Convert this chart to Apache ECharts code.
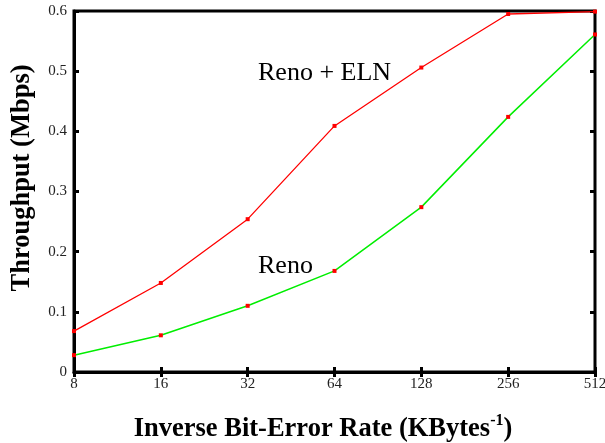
<!DOCTYPE html>
<html><head><meta charset="utf-8">
<script src="https://cdn.jsdelivr.net/npm/echarts@6/dist/echarts.min.js"></script>
<style>html,body{margin:0;padding:0;background:#fff}#c{width:605px;height:443px}</style>
</head><body><div id="c"></div>
<script>
const categories = ['8','16','32','64','128','256','512'];
const renoEln = [0.068, 0.148, 0.254, 0.409, 0.506, 0.595, 0.599];
const reno = [0.028, 0.061, 0.110, 0.168, 0.274, 0.424, 0.561];
const yTicks = [0, 0.1, 0.2, 0.3, 0.4, 0.5, 0.6];

const serif = '"Liberation Serif", "DejaVu Serif", serif';
const chart = echarts.init(document.getElementById('c'));
const tickStyle = {show:true, inside:true, length:5, lineStyle:{color:'#000', width:3}};
chart.setOption({
  animation:false,
  backgroundColor:'#fff',
  grid:{left:74, right:10, top:11, bottom:71, show:true, borderColor:'#000', borderWidth:3,
        containLabel:false, outerBoundsMode:'none'},
  xAxis:[{
    type:'category', data:categories, boundaryGap:false,
    axisLine:{show:true, lineStyle:{color:'#000', width:3}},
    axisTick:tickStyle,
    axisLabel:{color:'#222', fontFamily:serif, fontSize:15, margin:5},
    splitLine:{show:false},
    name:'{t|Inverse Bit-Error Rate (KBytes}{s|-1}{t|)}',
    nameLocation:'middle', nameGap:41,
    nameTextStyle:{padding:[0,23,0,0], rich:{
      t:{fontFamily:serif, fontWeight:'bold', fontSize:26.5, color:'#000', verticalAlign:'bottom', lineHeight:30},
      s:{fontFamily:serif, fontWeight:'bold', fontSize:16, color:'#000', verticalAlign:'top', lineHeight:30, padding:[0,0,15,0]}
    }}
  },{
    type:'category', data:categories, boundaryGap:false, position:'top',
    axisLine:{show:false}, axisTick:tickStyle, axisLabel:{show:false}, splitLine:{show:false}
  }],
  yAxis:[{
    type:'value', min:0, max:0.6, interval:0.1,
    axisLine:{show:true, lineStyle:{color:'#000', width:3}},
    axisTick:tickStyle,
    axisLabel:{color:'#222', fontFamily:serif, fontSize:15, margin:7,
      formatter:v=>{const t=yTicks.find(x=>Math.abs(x-v)<1e-9); return t===0?'0':(t!==undefined?t.toFixed(1):'');}},
    splitLine:{show:false},
    name:'Throughput (Mbps)', nameLocation:'middle', nameGap:38,
    nameTextStyle:{fontFamily:serif, fontWeight:'bold', fontSize:26.5, color:'#000', padding:[0,0,0,27]}
  },{
    type:'value', min:0, max:0.6, interval:0.1, position:'right',
    axisLine:{show:false}, axisTick:tickStyle, axisLabel:{show:false}, splitLine:{show:false}
  }],
  series:[{
    name:'Reno + ELN', type:'line', data:renoEln,
    lineStyle:{color:'#ff0000', width:1.3},
    symbol:'rect', symbolSize:4, itemStyle:{color:'#ff0000'}, z:3
  },{
    name:'Reno', type:'line', data:reno,
    lineStyle:{color:'#00ee00', width:1.5},
    symbol:'rect', symbolSize:4, itemStyle:{color:'#ff0000'}, z:3
  }],
  graphic:[
    {type:'text', left:258, top:60, style:{text:'Reno + ELN', font:'26px '+serif, fill:'#000'}},
    {type:'text', left:258, top:253, style:{text:'Reno', font:'26px '+serif, fill:'#000'}}
  ]
});
</script></body></html>
